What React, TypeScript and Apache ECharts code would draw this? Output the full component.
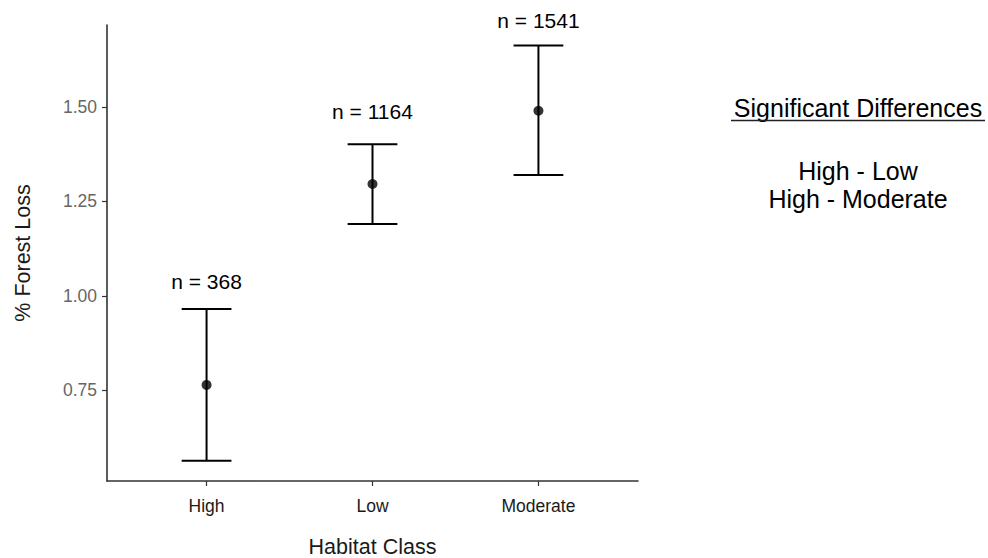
import React, { useEffect, useRef } from "react";
import * as echarts from "echarts";

const categories = ["High", "Low", "Moderate"];
const meanLoss = [0.764, 1.296, 1.49];
const lowerCI = [0.563, 1.19, 1.32];
const upperCI = [0.965, 1.401, 1.663];
const sampleSizes = [368, 1164, 1541];
const labelY = [1.037, 1.489, 1.728];
const yTickValues = [0.75, 1.0, 1.25, 1.5];
const xTickValues = [0, 1, 2];
const sigTitle = "Significant Differences";
const sigPairs = ["High - Low", "High - Moderate"];

const FONT = "'Liberation Sans', Arial, Helvetica, sans-serif";

export default function App() {
  const ref = useRef<HTMLDivElement>(null);
  useEffect(() => {
    document.body.style.margin = "0";
    const chart = echarts.init(ref.current!, null, { renderer: "svg" });
    const errData = categories.map((_, i) => [i, lowerCI[i], upperCI[i], sampleSizes[i], labelY[i]]);
    const meanData = categories.map((_, i) => [i, meanLoss[i]]);
    const option: any = {
      animation: false,
      backgroundColor: "#ffffff",
      textStyle: { fontFamily: FONT },
      grid: { left: 107, right: 350, top: 25, bottom: 77, containLabel: false, outerBoundsMode: "none" },
      xAxis: {
        type: "value",
        min: -0.6,
        max: 2.6,
        name: "Habitat Class",
        nameLocation: "middle",
        nameGap: 55,
        nameTextStyle: { fontSize: 21.5, color: "#1a1a1a", fontFamily: FONT },
        axisLine: { show: true, onZero: false, lineStyle: { color: "#333333", width: 1.6 } },
        axisTick: { show: true, length: 5, customValues: xTickValues, lineStyle: { color: "#333333", width: 1.2 } },
        axisLabel: {
          customValues: xTickValues,
          formatter: (v: number) => categories[Math.round(v)] ?? "",
          fontSize: 17.5,
          color: "#1a1a1a",
          margin: 16,
          fontFamily: FONT,
        },
        splitLine: { show: false },
      },
      yAxis: {
        type: "value",
        min: 0.5095,
        max: 1.717,
        name: "% Forest Loss",
        nameLocation: "middle",
        nameGap: 73,
        nameTextStyle: { fontSize: 21.5, color: "#1a1a1a", fontFamily: FONT },
        axisLine: { show: true, onZero: false, lineStyle: { color: "#333333", width: 1.6 } },
        axisTick: { show: true, length: 5, customValues: yTickValues, lineStyle: { color: "#333333", width: 1.2 } },
        axisLabel: {
          customValues: yTickValues,
          formatter: (v: number) => v.toFixed(2),
          fontSize: 17.5,
          color: "#666666",
          margin: 10,
          fontFamily: FONT,
        },
        splitLine: { show: false },
      },
      series: [
        {
          type: "custom",
          clip: false,
          data: errData,
          encode: { x: 0, y: [1, 2] },
          renderItem: (params: any, api: any) => {
            const x = api.value(0);
            const lo = api.coord([x, api.value(1)]);
            const hi = api.coord([x, api.value(2)]);
            const lab = api.coord([x, api.value(4)]);
            const half = api.size([0.15, 0])[0];
            const style = { stroke: "#000000", lineWidth: 2 };
            return {
              type: "group",
              children: [
                { type: "line", shape: { x1: lo[0], y1: lo[1], x2: hi[0], y2: hi[1] }, style },
                { type: "line", shape: { x1: hi[0] - half, y1: hi[1], x2: hi[0] + half, y2: hi[1] }, style },
                { type: "line", shape: { x1: lo[0] - half, y1: lo[1], x2: lo[0] + half, y2: lo[1] }, style },
                {
                  type: "text",
                  x: lab[0],
                  y: lab[1],
                  style: {
                    text: "n = " + api.value(3),
                    fill: "#000000",
                    fontSize: 21,
                    fontFamily: FONT,
                    align: "center",
                    verticalAlign: "middle",
                  },
                },
              ],
            };
          },
        },
        {
          type: "scatter",
          data: meanData,
          symbol: "circle",
          symbolSize: 10,
          itemStyle: { color: "#000000" },
          z: 5,
        },
      ],
      graphic: [
        {
          type: "text",
          x: 858,
          y: 108,
          style: { text: sigTitle, fill: "#000000", fontSize: 25, fontFamily: FONT, align: "center", verticalAlign: "middle" },
        },
        {
          type: "line",
          shape: { x1: 731, y1: 120.5, x2: 985, y2: 120.5 },
          style: { stroke: "#222222", lineWidth: 1.5 },
        },
        ...sigPairs.map((t, i) => ({
          type: "text",
          x: 858,
          y: 171 + i * 28,
          style: { text: t, fill: "#000000", fontSize: 25, fontFamily: FONT, align: "center", verticalAlign: "middle" },
        })),
      ],
    };
    chart.setOption(option);
    return () => chart.dispose();
  }, []);
  return <div ref={ref} style={{ position: "fixed", left: 0, top: 0, width: 988, height: 558, background: "#fff" }} />;
}
